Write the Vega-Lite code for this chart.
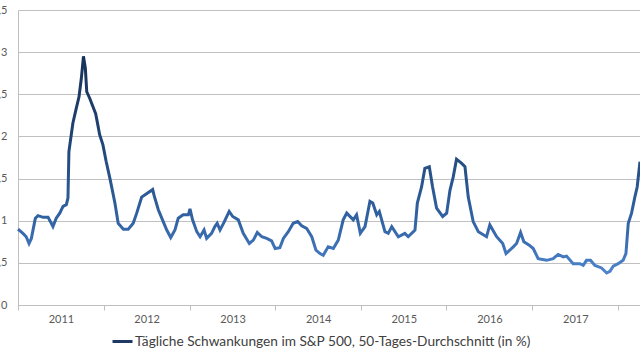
{
  "$schema": "https://vega.github.io/schema/vega-lite/v6.json",
  "autosize": "none",
  "width": 622,
  "height": 295,
  "padding": {"left": 18, "top": 10, "right": 0, "bottom": 55},
  "background": "white",
  "config": {
    "view": {"stroke": null},
    "font": "Lato",
    "axis": {"labelFont": "Lato", "labelColor": "#595959", "labelFontSize": 11}
  },
  "data": {
    "values": [
      {"date": "2011-01-01", "v": 0.90}, {"date": "2011-01-22", "v": 0.85}, {"date": "2011-02-05", "v": 0.81},
      {"date": "2011-02-17", "v": 0.73}, {"date": "2011-02-27", "v": 0.79}, {"date": "2011-03-16", "v": 1.03},
      {"date": "2011-03-27", "v": 1.06}, {"date": "2011-04-18", "v": 1.04}, {"date": "2011-05-09", "v": 1.04},
      {"date": "2011-05-23", "v": 0.97}, {"date": "2011-05-30", "v": 0.93}, {"date": "2011-06-13", "v": 1.03},
      {"date": "2011-06-28", "v": 1.09}, {"date": "2011-07-12", "v": 1.17}, {"date": "2011-07-26", "v": 1.19},
      {"date": "2011-08-02", "v": 1.27}, {"date": "2011-08-06", "v": 1.82}, {"date": "2011-08-16", "v": 2.02},
      {"date": "2011-08-23", "v": 2.16}, {"date": "2011-09-06", "v": 2.33}, {"date": "2011-09-18", "v": 2.47},
      {"date": "2011-09-28", "v": 2.69}, {"date": "2011-10-07", "v": 2.95}, {"date": "2011-10-15", "v": 2.81},
      {"date": "2011-10-21", "v": 2.53}, {"date": "2011-11-03", "v": 2.45}, {"date": "2011-11-17", "v": 2.35},
      {"date": "2011-11-28", "v": 2.27}, {"date": "2011-12-05", "v": 2.17}, {"date": "2011-12-15", "v": 2.02},
      {"date": "2011-12-29", "v": 1.90}, {"date": "2012-01-12", "v": 1.70}, {"date": "2012-01-28", "v": 1.50},
      {"date": "2012-02-18", "v": 1.21}, {"date": "2012-03-03", "v": 0.97}, {"date": "2012-03-25", "v": 0.90},
      {"date": "2012-04-15", "v": 0.90}, {"date": "2012-05-06", "v": 0.97}, {"date": "2012-05-21", "v": 1.09},
      {"date": "2012-06-11", "v": 1.28}, {"date": "2012-07-02", "v": 1.32}, {"date": "2012-07-28", "v": 1.37},
      {"date": "2012-08-03", "v": 1.30}, {"date": "2012-08-21", "v": 1.13}, {"date": "2012-09-11", "v": 0.99},
      {"date": "2012-09-26", "v": 0.89}, {"date": "2012-10-13", "v": 0.80}, {"date": "2012-10-31", "v": 0.89},
      {"date": "2012-11-14", "v": 1.03}, {"date": "2012-12-05", "v": 1.07}, {"date": "2012-12-27", "v": 1.07},
      {"date": "2013-01-03", "v": 1.14}, {"date": "2013-01-14", "v": 1.01}, {"date": "2013-02-01", "v": 0.87},
      {"date": "2013-02-15", "v": 0.81}, {"date": "2013-03-04", "v": 0.89}, {"date": "2013-03-15", "v": 0.79},
      {"date": "2013-04-05", "v": 0.85}, {"date": "2013-04-19", "v": 0.93}, {"date": "2013-04-29", "v": 0.97},
      {"date": "2013-05-11", "v": 0.89}, {"date": "2013-05-28", "v": 0.98}, {"date": "2013-06-19", "v": 1.11},
      {"date": "2013-07-04", "v": 1.05}, {"date": "2013-07-28", "v": 1.01}, {"date": "2013-08-18", "v": 0.85},
      {"date": "2013-09-13", "v": 0.73}, {"date": "2013-09-30", "v": 0.77}, {"date": "2013-10-17", "v": 0.86},
      {"date": "2013-11-05", "v": 0.81}, {"date": "2013-11-26", "v": 0.79}, {"date": "2013-12-17", "v": 0.76},
      {"date": "2014-01-01", "v": 0.67}, {"date": "2014-01-21", "v": 0.68}, {"date": "2014-02-05", "v": 0.79},
      {"date": "2014-02-26", "v": 0.87}, {"date": "2014-03-19", "v": 0.97}, {"date": "2014-04-07", "v": 0.99},
      {"date": "2014-04-24", "v": 0.94}, {"date": "2014-05-15", "v": 0.91}, {"date": "2014-06-06", "v": 0.81},
      {"date": "2014-06-24", "v": 0.65}, {"date": "2014-07-11", "v": 0.61}, {"date": "2014-07-25", "v": 0.59},
      {"date": "2014-08-15", "v": 0.69}, {"date": "2014-09-06", "v": 0.67}, {"date": "2014-09-27", "v": 0.77},
      {"date": "2014-10-18", "v": 1.01}, {"date": "2014-11-02", "v": 1.09}, {"date": "2014-11-30", "v": 1.01},
      {"date": "2014-12-14", "v": 1.07}, {"date": "2014-12-30", "v": 0.85}, {"date": "2015-01-19", "v": 0.93},
      {"date": "2015-02-09", "v": 1.23}, {"date": "2015-02-21", "v": 1.21}, {"date": "2015-03-10", "v": 1.07},
      {"date": "2015-03-21", "v": 1.11}, {"date": "2015-04-14", "v": 0.87}, {"date": "2015-04-28", "v": 0.85},
      {"date": "2015-05-13", "v": 0.93}, {"date": "2015-06-10", "v": 0.81}, {"date": "2015-07-08", "v": 0.85},
      {"date": "2015-07-22", "v": 0.81}, {"date": "2015-08-20", "v": 0.89}, {"date": "2015-08-30", "v": 1.21},
      {"date": "2015-09-17", "v": 1.40}, {"date": "2015-10-01", "v": 1.62}, {"date": "2015-10-20", "v": 1.64},
      {"date": "2015-11-03", "v": 1.40}, {"date": "2015-11-20", "v": 1.15}, {"date": "2015-12-16", "v": 1.05},
      {"date": "2016-01-02", "v": 1.09}, {"date": "2016-01-16", "v": 1.36}, {"date": "2016-01-30", "v": 1.52},
      {"date": "2016-02-13", "v": 1.73}, {"date": "2016-03-06", "v": 1.68}, {"date": "2016-03-20", "v": 1.64},
      {"date": "2016-04-03", "v": 1.28}, {"date": "2016-04-24", "v": 0.99}, {"date": "2016-05-16", "v": 0.87},
      {"date": "2016-06-20", "v": 0.81}, {"date": "2016-07-04", "v": 0.95}, {"date": "2016-08-02", "v": 0.81},
      {"date": "2016-08-28", "v": 0.73}, {"date": "2016-09-11", "v": 0.61}, {"date": "2016-10-12", "v": 0.69},
      {"date": "2016-10-26", "v": 0.73}, {"date": "2016-11-12", "v": 0.86}, {"date": "2016-11-26", "v": 0.75},
      {"date": "2016-12-19", "v": 0.71}, {"date": "2017-01-05", "v": 0.67}, {"date": "2017-01-26", "v": 0.55},
      {"date": "2017-03-03", "v": 0.53}, {"date": "2017-03-31", "v": 0.55}, {"date": "2017-04-21", "v": 0.60},
      {"date": "2017-05-13", "v": 0.57}, {"date": "2017-05-27", "v": 0.58}, {"date": "2017-06-24", "v": 0.49},
      {"date": "2017-07-23", "v": 0.49}, {"date": "2017-08-06", "v": 0.47}, {"date": "2017-08-20", "v": 0.53},
      {"date": "2017-09-06", "v": 0.53}, {"date": "2017-09-25", "v": 0.47}, {"date": "2017-10-23", "v": 0.44},
      {"date": "2017-11-14", "v": 0.38}, {"date": "2017-11-28", "v": 0.40}, {"date": "2017-12-12", "v": 0.46},
      {"date": "2018-01-02", "v": 0.49}, {"date": "2018-01-23", "v": 0.53}, {"date": "2018-02-04", "v": 0.61},
      {"date": "2018-02-14", "v": 0.97}, {"date": "2018-02-28", "v": 1.09}, {"date": "2018-03-14", "v": 1.28},
      {"date": "2018-03-24", "v": 1.40}, {"date": "2018-04-05", "v": 1.70}
    ]
  },
  "encoding": {
    "x": {
      "field": "date", "type": "temporal",
      "scale": {"domain": ["2011-01-01", "2018-04-05"], "nice": false},
      "axis": {
        "title": null, "grid": false,
        "values": ["2011-01-01", "2012-01-01", "2013-01-01", "2014-01-01", "2015-01-01", "2016-01-01", "2017-01-01", "2018-01-01"],
        "labelExpr": "timeFormat(datum.value, '%Y') == '2018' ? '' : timeFormat(datum.value, '%Y')",
        "labelOffset": 43, "labelAlign": "center", "labelPadding": 3,
        "tickSize": 5, "tickColor": "#bfbfbf", "domainColor": "#bfbfbf",
        "labelFlush": false, "labelOverlap": false
      }
    },
    "y": {
      "field": "v", "type": "quantitative",
      "scale": {"domain": [0, 3.5], "nice": false, "zero": true},
      "axis": {
        "title": null, "values": [0, 0.5, 1, 1.5, 2, 2.5, 3, 3.5],
        "labelExpr": "replace(format(datum.value, '~g'), '.', ',')",
        "ticks": false, "tickSize": 0, "labelPadding": 11, "gridColor": "#c0c0c0",
        "domainColor": "#bfbfbf", "labelBaseline": "middle"
      }
    }
  },
  "layer": [
    {
      "mark": {
        "type": "line", "strokeWidth": 3, "interpolate": "linear",
        "stroke": {
          "gradient": "linear", "x1": 0, "y1": 0, "x2": 0, "y2": 1,
          "stops": [
            {"offset": 0, "color": "#17325a"},
            {"offset": 0.37, "color": "#1f4373"},
            {"offset": 0.56, "color": "#28548c"},
            {"offset": 0.76, "color": "#3263a3"},
            {"offset": 0.88, "color": "#3e72b7"},
            {"offset": 1, "color": "#4d84cc"}
          ]
        }
      }
    },
    {
      "mark": {"type": "line", "strokeWidth": 3, "opacity": 0},
      "encoding": {
        "color": {
          "datum": "Tägliche Schwankungen im S&P 500, 50-Tages-Durchschnitt (in %)",
          "type": "nominal",
          "scale": {"range": ["#1f3864"]},
          "legend": {
            "title": null, "orient": "none", "legendX": 93, "legendY": 320,
            "symbolType": "stroke", "symbolSize": 400, "symbolStrokeWidth": 3,
            "symbolOpacity": 1, "symbolStrokeColor": "#1f3864",
            "labelFont": "Lato", "labelFontSize": 13.7, "labelColor": "#404040",
            "labelOffset": 1, "padding": 0, "labelLimit": 600
          }
        }
      }
    }
  ]
}
